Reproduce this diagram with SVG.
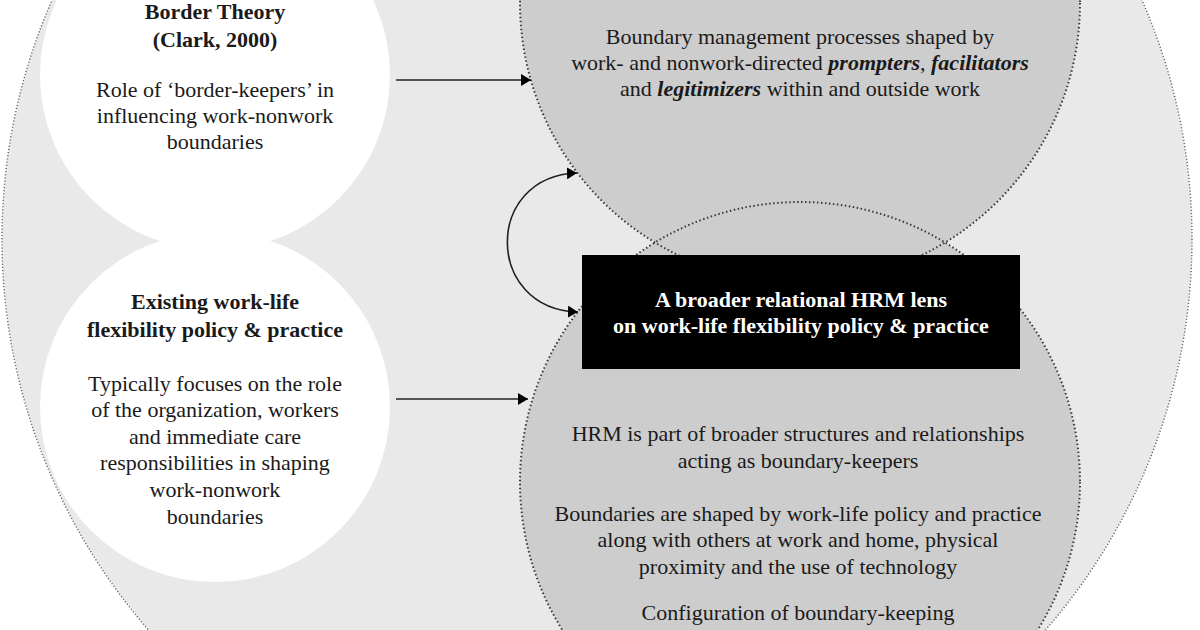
<svg xmlns="http://www.w3.org/2000/svg" width="1200" height="630" viewBox="0 0 1200 630">
<defs>
<style>
.t{font-family:"Liberation Serif","Times New Roman",serif;font-size:22px;fill:#1a1a1a;text-anchor:middle}
.b{font-weight:bold}
.bi{font-weight:bold;font-style:italic}
.w{fill:#ffffff}
.dot{fill:none;stroke:#3a3a3a;stroke-width:2;stroke-dasharray:1.5 2.5}
.line{fill:none;stroke:#222;stroke-width:1.6}
</style>
<marker id="ah" viewBox="0 0 10 12" refX="10" refY="6" markerWidth="10" markerHeight="12" markerUnits="userSpaceOnUse" orient="auto-start-reverse">
<path d="M0,0 L10,6 L0,12 Z" fill="#000"/>
</marker>
</defs>
<rect width="1200" height="630" fill="#ffffff"/>
<g id="outer">
<circle cx="597" cy="239" r="595" fill="#e9e9e9" stroke="#666" stroke-width="1.4" stroke-dasharray="1.2 2"/>
</g>
<g id="border-theory">
<circle cx="215" cy="75" r="175" fill="#ffffff"/>
<text class="t b" x="215" y="19">Border Theory</text>
<text class="t b" x="215" y="47">(Clark, 2000)</text>
<text class="t" x="215" y="97">Role of ‘border-keepers’ in</text>
<text class="t" x="215" y="123">influencing work-nonwork</text>
<text class="t" x="215" y="149">boundaries</text>
</g>
<g id="existing-policy">
<circle cx="215" cy="407" r="175" fill="#ffffff"/>
<text class="t b" x="215" y="309">Existing work-life</text>
<text class="t b" x="215" y="337">flexibility policy &amp; practice</text>
<text class="t" x="215" y="391">Typically focuses on the role</text>
<text class="t" x="215" y="417">of the organization, workers</text>
<text class="t" x="215" y="444">and immediate care</text>
<text class="t" x="215" y="470">responsibilities in shaping</text>
<text class="t" x="215" y="497">work-nonwork</text>
<text class="t" x="215" y="524">boundaries</text>
</g>
<g id="boundary-management">
<circle cx="800" cy="3" r="280" fill="#cdcdcd"/>
</g>
<g id="hrm-circle">
<circle cx="800" cy="482" r="280" fill="#cdcdcd"/>
</g>
<circle cx="800" cy="3" r="280" class="dot"/>
<circle cx="800" cy="482" r="280" class="dot"/>
<g id="boundary-management-text">
<text class="t" x="800" y="44">Boundary management processes shaped by</text>
<text class="t" x="800" y="70">work- and nonwork-directed <tspan class="bi">prompters</tspan>, <tspan class="bi">facilitators</tspan></text>
<text class="t" x="800" y="96">and <tspan class="bi">legitimizers</tspan> within and outside work</text>
</g>
<g id="hrm-lens">
<rect x="582" y="255" width="438" height="114" fill="#000"/>
<text class="t b w" x="801" y="307">A broader relational HRM lens</text>
<text class="t b w" x="801" y="333">on work-life flexibility policy &amp; practice</text>
</g>
<g id="hrm-text">
<text class="t" x="798" y="441">HRM is part of broader structures and relationships</text>
<text class="t" x="798" y="468">acting as boundary-keepers</text>
<text class="t" x="798" y="521">Boundaries are shaped by work-life policy and practice</text>
<text class="t" x="798" y="547">along with others at work and home, physical</text>
<text class="t" x="798" y="574">proximity and the use of technology</text>
<text class="t" x="798" y="620">Configuration of boundary-keeping</text>
</g>
<g id="connectors">
<line class="line" x1="396" y1="80" x2="531" y2="80" marker-end="url(#ah)"/>
<line class="line" x1="396" y1="399" x2="528" y2="399" marker-end="url(#ah)"/>
<path class="line" d="M577,173 C484,176 484,309 578,312" marker-start="url(#ah)" marker-end="url(#ah)"/>
</g>
</svg>
